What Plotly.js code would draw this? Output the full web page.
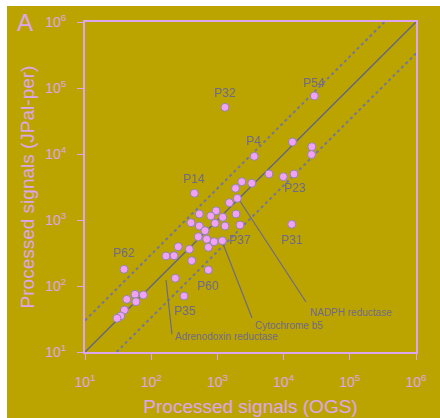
<!DOCTYPE html>
<html>
<head>
<meta charset="utf-8">
<script src="https://cdn.plot.ly/plotly-3.0.1.min.js"></script>
<style>
  html, body { margin: 0; padding: 0; background: #ffffff; }
  #chart { position: absolute; left: 7px; top: 6px; width: 433px; height: 412px; }
</style>
</head>
<body>
<div id="chart"></div>
<script>
// Scatter points: processed signals OGS (x) vs JPal-per (y)
const ogsSignal = [1300, 29100, 3600, 13600, 26700, 26400, 6010, 9910, 14350, 448,
  2330, 3300, 1875, 2000, 1515, 953, 792, 533, 1910, 1203,
  399, 533, 920, 1303, 2190, 650, 514, 889, 689, 1186,
  256, 377, 729, 167, 221, 409, 729, 231, 313, 38.8,
  56.9, 76, 42.7, 58.9, 39.3, 34.6, 30.4, 13250];
const jpalSignal = [51000, 75700, 9220, 15200, 12900, 9820, 4980, 4530, 4980, 2540,
  3800, 3600, 3020, 2130, 1830, 1380, 1150, 1233, 1233, 1100,
  910, 811, 891, 811, 840, 689, 558, 469, 511, 485,
  394, 360, 386, 285, 288, 242, 175, 131, 70.5, 179,
  74.8, 73.1, 62.8, 57.8, 43.3, 35.1, 32.4, 861];

// Protein spot labels
const spotNames = ["P32", "P54", "P4", "P14", "P23", "P62", "P35", "P60", "P37", "P31"];
const spotLabelX = [1303, 28800, 3570, 444, 14860, 38.8, 324, 721, 2190, 13400];
const spotLabelY = [84000, 119000, 15700, 4180, 3055, 316, 41.8, 100, 497, 497];

// Named proteins with connector lines
const proteinNames = ["NADPH reductase", "Cytochrome b5", "Adrenodoxin reductase"];
const proteinLabelX = [23400, 3450, 213];
const proteinLabelY = [39.0, 24.8, 16.9];
const connectorStartX = [2046, 1172, 167.5];
const connectorStartY = [2154, 481, 123];
const connectorEndX = [21800, 3335, 206];
const connectorEndY = [57.2, 32.7, 18.7];

// Reference lines: identity and 3-fold bounds
const identityX = [10, 1e6];
const foldFactor = 3;

// Axis ticks
const tickValues = [10, 100, 1000, 10000, 100000, 1000000];
const tickLabels = ["10<sup>1</sup>", "10<sup>2</sup>", "10<sup>3</sup>", "10<sup>4</sup>", "10<sup>5</sup>", "10<sup>6</sup>"];

const violet = "#dca6ee";
const labelGrey = "#6f6a8c";
const bg = "#bca400";
const FONT = "Liberation Sans, Arial, sans-serif";

const traces = [];
// upper 3-fold dotted
traces.push({
  x: [identityX[0], identityX[1] / foldFactor],
  y: [identityX[0] * foldFactor, identityX[1]],
  mode: "lines", line: {color: "#76769a", width: 2, dash: "dot"},
  hoverinfo: "skip", showlegend: false
});
// lower 3-fold dotted
traces.push({
  x: [identityX[0] * foldFactor, identityX[1]],
  y: [identityX[0], identityX[1] / foldFactor],
  mode: "lines", line: {color: "#76769a", width: 2, dash: "dot"},
  hoverinfo: "skip", showlegend: false
});
// identity line
traces.push({
  x: identityX, y: identityX,
  mode: "lines", line: {color: "#66667e", width: 1.5},
  hoverinfo: "skip", showlegend: false
});
// connectors
for (let i = 0; i < proteinNames.length; i++) {
  traces.push({
    x: [connectorStartX[i], connectorEndX[i]],
    y: [connectorStartY[i], connectorEndY[i]],
    mode: "lines", line: {color: "#6e6a86", width: 1.2},
    hoverinfo: "skip", showlegend: false
  });
}
// points
traces.push({
  x: ogsSignal, y: jpalSignal,
  mode: "markers",
  marker: {size: 8, color: "#f2a2f6", line: {color: "#8f86a8", width: 1}},
  showlegend: false
});

const annotations = [];
for (let i = 0; i < spotNames.length; i++) {
  annotations.push({
    x: Math.log10(spotLabelX[i]), y: Math.log10(spotLabelY[i]),
    xref: "x", yref: "y", text: spotNames[i], showarrow: false,
    xanchor: "center", yanchor: "middle",
    font: {family: FONT, size: 12, color: labelGrey}
  });
}
for (let i = 0; i < proteinNames.length; i++) {
  annotations.push({
    x: Math.log10(proteinLabelX[i]), y: Math.log10(proteinLabelY[i]),
    xref: "x", yref: "y", text: proteinNames[i], showarrow: false,
    xanchor: "left", yanchor: "middle",
    font: {family: FONT, size: 10, color: labelGrey}
  });
}
annotations.push({
  x: -0.181, y: 0.997, xref: "paper", yref: "paper", text: "A",
  showarrow: false, xanchor: "center", yanchor: "middle",
  font: {family: FONT, size: 24, color: violet}
});

const axisCommon = {
  type: "log",
  range: [1, 6],
  tickvals: tickValues,
  ticktext: tickLabels,
  ticks: "outside",
  ticklen: 6,
  tickwidth: 1,
  tickcolor: violet,
  showgrid: false,
  zeroline: false,
  showline: true,
  linecolor: violet,
  linewidth: 2,
  mirror: true,
  tickfont: {family: FONT, size: 14, color: violet}
};

const layout = {
  width: 433, height: 412,
  margin: {l: 78, r: 24, t: 16, b: 66},
  paper_bgcolor: bg,
  plot_bgcolor: bg,
  showlegend: false,
  xaxis: Object.assign({}, axisCommon, {
    ticklabelstandoff: 10,
    title: {text: "Processed signals (OGS)", standoff: 11,
      font: {family: FONT, size: 19, color: violet}}
  }),
  yaxis: Object.assign({}, axisCommon, {
    ticklabelstandoff: 8,
    title: {text: "Processed signals (JPal-per)", standoff: 6,
      font: {family: FONT, size: 19, color: violet}}
  }),
  annotations: annotations
};

Plotly.newPlot("chart", traces, layout, {displayModeBar: false, staticPlot: true});
</script>
</body>
</html>
